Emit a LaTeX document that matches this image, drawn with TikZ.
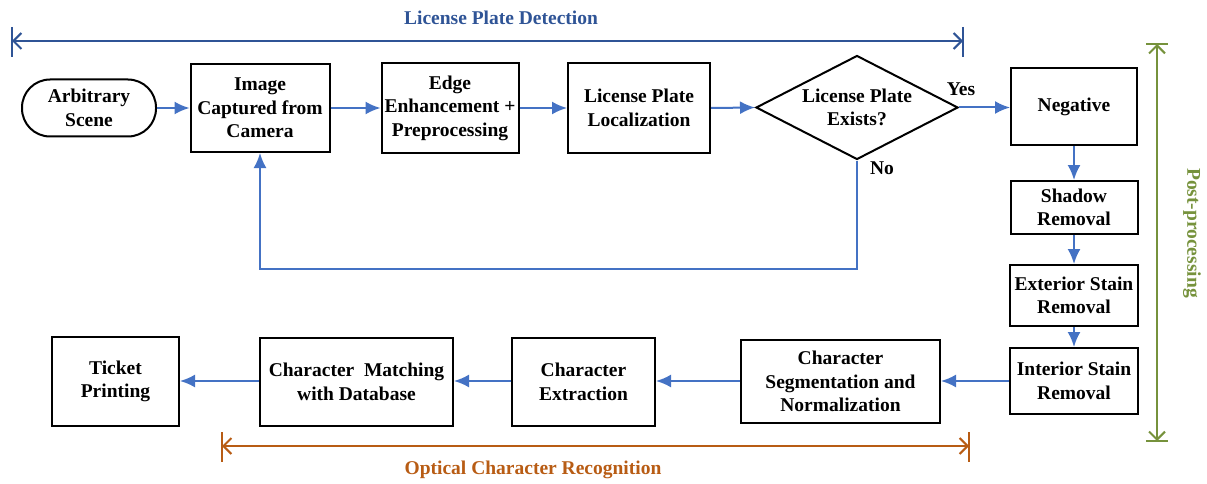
\documentclass[tikz,border=0pt]{standalone}
\usepackage{fontspec}
\setmainfont{Liberation Serif}
\usetikzlibrary{arrows.meta,shapes.geometric}
\definecolor{connblue}{RGB}{68,114,196}
\definecolor{lpdblue}{RGB}{47,84,150}
\definecolor{ocrbrown}{RGB}{184,92,20}
\definecolor{postgreen}{RGB}{118,146,60}
\tikzset{
  procbox/.style={draw=black, line width=2pt, align=center, inner sep=0pt},
  conn/.style={draw=connblue, line width=2pt, -{Latex[length=15pt,width=13pt]}},
  span/.style={line width=2pt, {Straight Barb[length=8pt,width=16pt]}-{Straight Barb[length=8pt,width=16pt]}},
  spanbar/.style={line width=2pt},
  lbl/.style={inner sep=0pt, align=center}
}
\begin{document}
\begin{tikzpicture}[x=1pt,y=-1pt,font=\fontsize{19.5}{23.5}\selectfont\bfseries]
\useasboundingbox (0,0) rectangle (1207,484);
% top row
\node[procbox, rounded corners=28pt, minimum width=134pt, minimum height=57pt] (arb) at (89,108) {Arbitrary\\Scene};
\node[procbox, minimum width=139pt, minimum height=88pt] (img) at (260,108) {Image\\Captured from\\Camera};
\node[procbox, minimum width=137pt, minimum height=90pt] (edge) at (450,108) {Edge\\Enhancement +\\Preprocessing};
\node[procbox, minimum width=142pt, minimum height=90pt] (loc) at (639,108) {License Plate\\Localization};
\node[procbox, diamond, aspect=1.94, minimum width=202pt, minimum height=104pt] (dia) at (857,107.5) {License Plate\\Exists?};
\node[procbox, minimum width=126pt, minimum height=77pt] (neg) at (1074,107) {Negative};
% right column
\node[procbox, minimum width=127pt, minimum height=53pt] (shad) at (1074,207.5) {Shadow\\Removal};
\node[procbox, minimum width=128pt, minimum height=61pt] (ext) at (1074,295.5) {Exterior Stain\\Removal};
\node[procbox, minimum width=128pt, minimum height=66pt] (int) at (1074,381) {Interior Stain\\Removal};
% bottom row
\node[procbox, minimum width=199pt, minimum height=83pt] (seg) at (840.5,381.5) {Character\\Segmentation and\\Normalization};
\node[procbox, minimum width=143pt, minimum height=88pt] (extr) at (583.5,382) {Character\\Extraction};
\node[procbox, minimum width=193pt, minimum height=88pt] (match) at (356.5,382) {Character\ \ Matching\\with Database};
\node[procbox, minimum width=127pt, minimum height=89pt] (ticket) at (115.5,381.5) {Ticket\\Printing};
% labels
\node[lbl] (yes) at (961,89) {Yes};
\node[lbl] (no) at (882,168) {No};
% connectors
\draw[conn] (arb.east) -- (img.west);
\draw[conn] (img.east) -- (edge.west);
\draw[conn] (edge.east) -- (loc.west);
\draw[conn] (loc.east) -- (dia.west);
\draw[conn] (dia.east) -- (neg.west |- dia.east);
\draw[conn] (neg.south) -- (shad.north);
\draw[conn] (shad.south) -- (ext.north);
\draw[conn] (ext.south) -- (int.north);
\draw[conn] (int.west) -- (seg.east |- int.west);
\draw[conn] (seg.west |- int.west) -- (extr.east |- int.west);
\draw[conn] (extr.west |- int.west) -- (match.east |- int.west);
\draw[conn] (match.west |- int.west) -- (ticket.east |- int.west);
\coordinate (fb) at (0,269);
\draw[conn] (dia.south) -- (dia.south |- fb) -- (img.south |- fb) -- (img.south);
% License Plate Detection span
\coordinate (lpdL) at (12,41);
\coordinate (lpdR) at (963,41);
\draw[span, draw=lpdblue] (lpdL) -- (lpdR);
\draw[spanbar, draw=lpdblue] (lpdL) ++(0,-14) -- ++(0,30);
\draw[spanbar, draw=lpdblue] (lpdR) ++(0,-14) -- ++(0,30);
\node[lbl, text=lpdblue] (lpdtitle) at (501,18) {License Plate Detection};
% OCR span
\coordinate (ocrL) at (222,446);
\coordinate (ocrR) at (969,446);
\draw[span, draw=ocrbrown] (ocrL) -- (ocrR);
\draw[spanbar, draw=ocrbrown] (ocrL) ++(0,-14) -- ++(0,30);
\draw[spanbar, draw=ocrbrown] (ocrR) ++(0,-14) -- ++(0,30);
\node[lbl, text=ocrbrown] (ocrtitle) at (533,470) {Optical Character Recognition};
% Post-processing span
\coordinate (ppT) at (1157,44);
\coordinate (ppB) at (1157,441);
\draw[span, draw=postgreen] (ppT) -- (ppB);
\draw[spanbar, draw=postgreen] (ppT) ++(-11,0) -- ++(22,0);
\draw[spanbar, draw=postgreen] (ppB) ++(-11,0) -- ++(22,0);
\node[lbl, text=postgreen, rotate=-90] (pptitle) at (1192,233) {Post-processing};
\end{tikzpicture}
\end{document}
